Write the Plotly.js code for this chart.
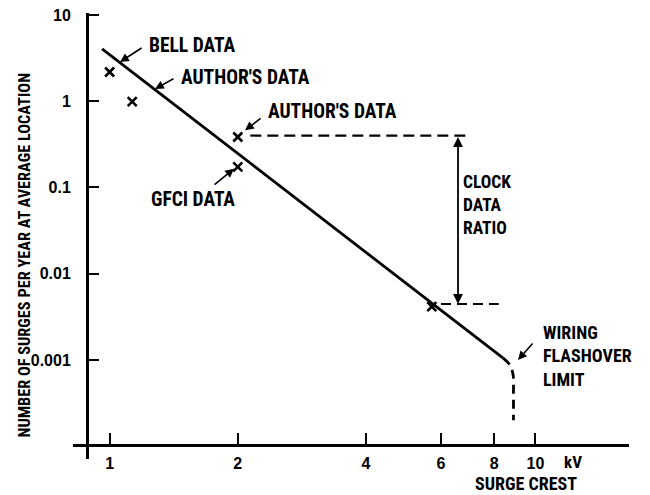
<!DOCTYPE html>
<html>
<head>
<meta charset="utf-8">
<script src="https://cdn.plot.ly/plotly-3.0.1.min.js"></script>
<style>html,body{margin:0;padding:0;background:#fff}#chart{width:650px;height:495px}</style>
</head>
<body>
<div id="chart"></div>
<script>
// ---- data ----
const lineKv = [0.96, 8.4];
const lineSurges = [4.04, 0.00105];
const flashKv = [8.4, 8.7, 8.86, 8.88, 8.88];
const flashSurges = [0.00105, 0.00088, 0.00068, 0.0004, 0.0002];
const pointKv = [1.0, 1.13, 2.0, 2.0, 5.71];
const pointSurges = [2.18, 0.99, 0.385, 0.173, 0.00415];
const clockTopKv = [2.14, 6.9];
const clockTopSurges = [0.40, 0.40];
const clockBotKv = [6.0, 8.2];
const clockBotSurges = [0.00446, 0.00446];
const clockArrowKv = 6.58;
const xTickVals = [1, 2, 4, 6, 8, 10];
const xTickText = ['1', '2', '4', '6', '8', '10'];
const yTickVals = [10, 1, 0.1, 0.01, 0.001];
const yTickText = ['10', '1', '0.1', '0.01', '0.001'];

const NARROW = 'Roboto Condensed, Liberation Sans Narrow, DejaVu Sans Condensed, sans-serif';
const TICKF = 'Liberation Sans, Arial, sans-serif';
const lg = Math.log10;
const txt = (size) => ({family: NARROW, size: size, color: '#000', weight: 700});

const traces = [
  {x: lineKv, y: lineSurges, mode: 'lines', line: {color: '#000', width: 2.8}, hoverinfo: 'skip'},
  {x: flashKv, y: flashSurges, mode: 'lines', line: {color: '#000', width: 2.8, dash: '9px,6px', shape: 'spline'}, hoverinfo: 'skip'},
  {x: clockTopKv, y: clockTopSurges, mode: 'lines', line: {color: '#000', width: 2.2, dash: '11px,6px'}, hoverinfo: 'skip'},
  {x: clockBotKv, y: clockBotSurges, mode: 'lines', line: {color: '#000', width: 2.2, dash: '10px,6px'}, hoverinfo: 'skip'},
  {x: pointKv, y: pointSurges, mode: 'markers', marker: {symbol: 'x-thin-open', size: 9, color: '#000', line: {color: '#000', width: 2.6}}, hoverinfo: 'skip'}
];

function ptr(kv, s, ax, ay) {
  return {x: lg(kv), y: lg(s), xref: 'x', yref: 'y', ax: ax, ay: ay, text: '', showarrow: true,
          arrowhead: 2, arrowsize: 1.1, arrowwidth: 1.6, arrowcolor: '#000'};
}
function lbl(text, lx, ly, size) {
  return {x: lx, y: ly, xref: 'x', yref: 'y', text: text, showarrow: false, xanchor: 'left', yanchor: 'middle',
          align: 'left', borderpad: 0, font: txt(size)};
}

const annotations = [
  lbl('BELL DATA', 0.0902, 0.652, 19.5),
  lbl("AUTHOR'S DATA", 0.1653, 0.281, 19.5),
  lbl("AUTHOR'S DATA", 0.3696, -0.1246, 19.5),
  lbl('GFCI DATA', 0.0949, -1.145, 19.5),
  lbl('CLOCK<br>DATA<br>RATIO', 0.828, -1.203, 17.5),
  lbl('WIRING<br>FLASHOVER<br>LIMIT', 1.0155, -2.954, 18),
  ptr(1.058, 2.85, 23, -15),
  ptr(1.278, 1.387, 20, -11),
  ptr(2.08, 0.46, 17, -13),
  ptr(1.96, 0.165, -21, 17),
  ptr(9.1, 0.001, 16, -18),
  {x: lg(clockArrowKv), y: lg(clockBotSurges[0]), ax: lg(clockArrowKv), ay: lg(clockTopSurges[0]),
   xref: 'x', yref: 'y', axref: 'x', ayref: 'y', text: '', showarrow: true, arrowside: 'end+start',
   arrowhead: 2, startarrowhead: 2, arrowsize: 1.1, startarrowsize: 1.1, arrowwidth: 1.8, arrowcolor: '#000'},
  {x: 1.088, y: -0.0067, xref: 'x', yref: 'paper', text: 'kV', showarrow: false, xanchor: 'center', yanchor: 'middle', borderpad: 0, font: txt(17)},
  {x: 0.815, y: -0.0807, xref: 'paper', yref: 'paper', text: 'SURGE CREST', showarrow: false, xanchor: 'center', yanchor: 'bottom', borderpad: 0, font: txt(18)},
  {x: -0.088, y: 0.0426, xref: 'paper', yref: 'paper', text: 'NUMBER OF SURGES PER YEAR AT AVERAGE LOCATION', textangle: -90,
   showarrow: false, xanchor: 'center', yanchor: 'bottom', font: txt(16.3)}
];

const layout = {
  width: 650, height: 495,
  margin: {l: 73, r: 21, t: 13, b: 36, pad: 0},
  paper_bgcolor: '#fff', plot_bgcolor: '#fff',
  showlegend: false,
  xaxis: {
    type: 'log', range: [-0.086, 1.2198], anchor: 'free', position: 0.0314,
    showline: true, linecolor: '#000', linewidth: 3, showgrid: false, zeroline: false,
    ticks: 'inside', ticklen: 11, tickwidth: 2, tickcolor: '#000',
    tickvals: xTickVals, ticktext: xTickText, ticklabelstandoff: 3,
    tickfont: {family: TICKF, size: 16, color: '#000', weight: 700}, fixedrange: true
  },
  yaxis: {
    type: 'log', range: [-4.148, 1.023], anchor: 'free', position: 0.0252,
    showline: true, linecolor: '#000', linewidth: 2.5, showgrid: false, zeroline: false,
    ticks: 'inside', ticklen: 10, tickwidth: 2, tickcolor: '#000',
    tickvals: yTickVals, ticktext: yTickText, ticklabelstandoff: 12,
    tickfont: {family: TICKF, size: 16, color: '#000', weight: 700}, fixedrange: true
  },
  annotations: annotations
};

Plotly.newPlot('chart', traces, layout, {staticPlot: true, displayModeBar: false});
</script>
</body>
</html>
